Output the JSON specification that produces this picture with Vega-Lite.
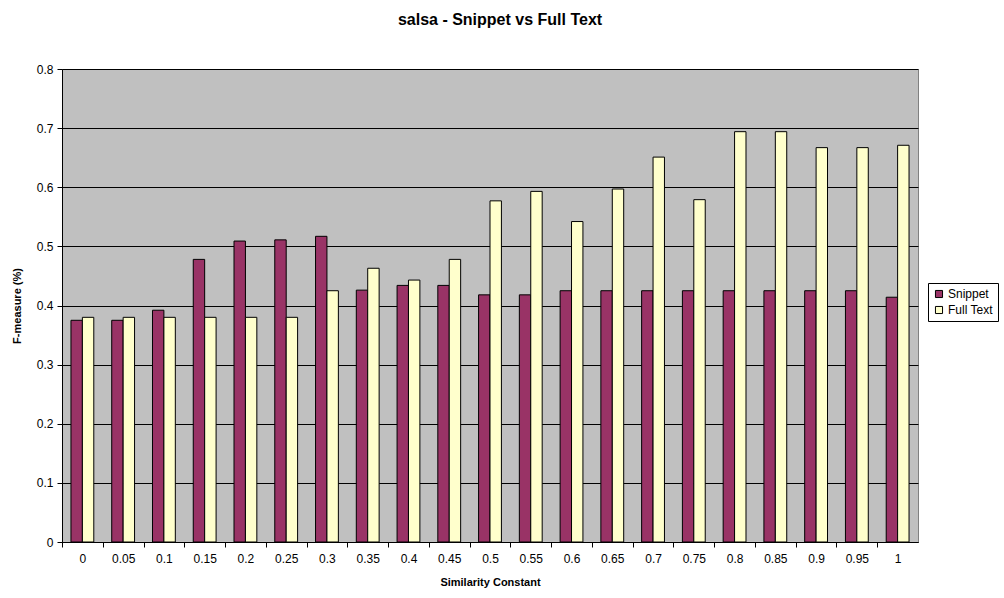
{
  "$schema": "https://vega.github.io/schema/vega-lite/v6.json",
  "width": 856,
  "height": 473,
  "autosize": {"type": "none"},
  "padding": {"left": 62, "top": 69, "right": 86, "bottom": 56},
  "background": "white",
  "title": {"text": "salsa - Snippet vs Full Text", "font": "Liberation Sans", "fontSize": 16, "fontWeight": "bold", "color": "black", "anchor": "middle", "dx": 10, "offset": 35},
  "config": {
    "view": {"fill": "#C0C0C0", "stroke": "#808080", "strokeWidth": 1},
    "axis": {"labelFont": "Liberation Sans", "titleFont": "Liberation Sans", "labelColor": "black", "titleColor": "black", "domainColor": "black", "tickColor": "black", "labelFontSize": 12, "titleFontSize": 11, "titleFontWeight": "bold"}
  },
  "datasets": {
    "d": [
      {"c": "0", "s": "Snippet", "v": 0.375}, {"c": "0", "s": "Full Text", "v": 0.380},
      {"c": "0.05", "s": "Snippet", "v": 0.375}, {"c": "0.05", "s": "Full Text", "v": 0.380},
      {"c": "0.1", "s": "Snippet", "v": 0.392}, {"c": "0.1", "s": "Full Text", "v": 0.380},
      {"c": "0.15", "s": "Snippet", "v": 0.478}, {"c": "0.15", "s": "Full Text", "v": 0.380},
      {"c": "0.2", "s": "Snippet", "v": 0.509}, {"c": "0.2", "s": "Full Text", "v": 0.380},
      {"c": "0.25", "s": "Snippet", "v": 0.511}, {"c": "0.25", "s": "Full Text", "v": 0.380},
      {"c": "0.3", "s": "Snippet", "v": 0.517}, {"c": "0.3", "s": "Full Text", "v": 0.425},
      {"c": "0.35", "s": "Snippet", "v": 0.426}, {"c": "0.35", "s": "Full Text", "v": 0.463},
      {"c": "0.4", "s": "Snippet", "v": 0.434}, {"c": "0.4", "s": "Full Text", "v": 0.443},
      {"c": "0.45", "s": "Snippet", "v": 0.434}, {"c": "0.45", "s": "Full Text", "v": 0.478},
      {"c": "0.5", "s": "Snippet", "v": 0.418}, {"c": "0.5", "s": "Full Text", "v": 0.577},
      {"c": "0.55", "s": "Snippet", "v": 0.418}, {"c": "0.55", "s": "Full Text", "v": 0.593},
      {"c": "0.6", "s": "Snippet", "v": 0.425}, {"c": "0.6", "s": "Full Text", "v": 0.542},
      {"c": "0.65", "s": "Snippet", "v": 0.425}, {"c": "0.65", "s": "Full Text", "v": 0.597},
      {"c": "0.7", "s": "Snippet", "v": 0.425}, {"c": "0.7", "s": "Full Text", "v": 0.651},
      {"c": "0.75", "s": "Snippet", "v": 0.425}, {"c": "0.75", "s": "Full Text", "v": 0.579},
      {"c": "0.8", "s": "Snippet", "v": 0.425}, {"c": "0.8", "s": "Full Text", "v": 0.694},
      {"c": "0.85", "s": "Snippet", "v": 0.425}, {"c": "0.85", "s": "Full Text", "v": 0.694},
      {"c": "0.9", "s": "Snippet", "v": 0.425}, {"c": "0.9", "s": "Full Text", "v": 0.667},
      {"c": "0.95", "s": "Snippet", "v": 0.425}, {"c": "0.95", "s": "Full Text", "v": 0.667},
      {"c": "1", "s": "Snippet", "v": 0.414}, {"c": "1", "s": "Full Text", "v": 0.671}
    ]
  },
  "data": {"name": "d"},
  "mark": {"type": "bar", "stroke": "black", "strokeWidth": 1},
  "encoding": {
    "x": {
      "field": "c", "type": "nominal", "sort": null,
      "scale": {"paddingInner": 0.44, "paddingOuter": 0.22},
      "axis": {"title": "Similarity Constant", "labelAngle": 0, "tickSize": 5, "tickOffset": -20.4, "labelOffset": 20.4, "labelPadding": 6, "titlePadding": 12, "grid": false}
    },
    "xOffset": {"field": "s", "type": "nominal", "sort": ["Snippet", "Full Text"], "scale": {"paddingInner": 0}},
    "y": {
      "field": "v", "type": "quantitative",
      "scale": {"domain": [0, 0.8], "nice": false},
      "axis": {"title": "F-measure (%)", "values": [0, 0.1, 0.2, 0.3, 0.4, 0.5, 0.6, 0.7, 0.8], "format": ".1~f", "grid": true, "gridColor": "black", "gridOpacity": 1, "gridWidth": 1, "tickSize": 5, "labelPadding": 4, "titlePadding": 14}
    },
    "color": {
      "field": "s", "type": "nominal",
      "scale": {"domain": ["Snippet", "Full Text"], "range": ["#993366", "#FFFFCC"]},
      "legend": {"title": null, "orient": "none", "legendX": 866, "legendY": 214, "symbolType": "square", "symbolSize": 50, "symbolStrokeColor": "black", "symbolStrokeWidth": 1, "labelFont": "Liberation Sans", "labelFontSize": 12, "labelColor": "black", "strokeColor": "black", "fillColor": "white", "padding": 5, "rowPadding": 4, "labelOffset": 3}
    }
  }
}
